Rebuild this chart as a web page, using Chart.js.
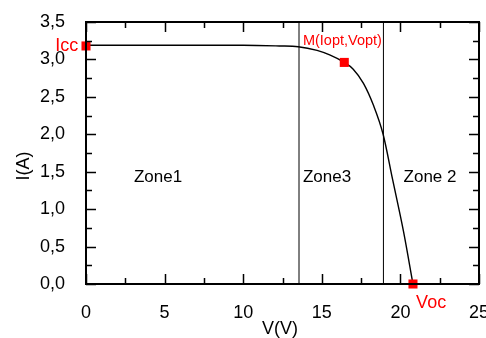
<!DOCTYPE html>
<html>
<head>
<meta charset="utf-8">
<script src="https://cdn.jsdelivr.net/npm/chart.js@4"></script>
<style>
  html, body { margin: 0; padding: 0; background: #fff; }
  #wrap { width: 486px; height: 338px; }
</style>
</head>
<body>
<div id="wrap"><canvas id="ivChart" width="486" height="338"></canvas></div>
<script>
// courbe I(V)
const tension = [0, 5, 10, 12.3, 13.5, 14.7, 15.5, 16.43, 17.0, 17.65, 18.28, 18.9, 19.5, 20.2, 20.8];
const courant = [3.19, 3.19, 3.19, 3.18, 3.17, 3.12, 3.06, 2.96, 2.87, 2.68, 2.39, 2.0, 1.40, 0.70, 0.0];

// points remarquables : Icc, M, Voc
const pointsV = [0, 16.43, 20.8];
const pointsI = [3.18, 2.96, 0];

// limites des zones
const zoneLimites = [13.55, 18.92];

// textes (position en V, I)
const textes = [
  { t: 'Icc', v: -0.5, i: 3.18, color: '#ff0000', size: 18, align: 'right' },
  { t: 'M(Iopt,Vopt)', v: 13.8, i: 3.24, color: '#ff0000', size: 14.5, align: 'left' },
  { t: 'Voc', v: 21.0, i: -0.26, color: '#ff0000', size: 18, align: 'left' },
  { t: 'Zone1', v: 3.05, i: 1.43, color: '#000', size: 17, align: 'left' },
  { t: 'Zone3', v: 13.8, i: 1.43, color: '#000', size: 17, align: 'left' },
  { t: 'Zone 2', v: 20.2, i: 1.43, color: '#000', size: 17, align: 'left' }
];

const police = '"Liberation Sans", Arial, sans-serif';

const courbe = tension.map((v, k) => ({ x: v, y: courant[k] }));
const marqueurs = pointsV.map((v, k) => ({ x: v, y: pointsI[k] }));
const lignesZones = zoneLimites.map(v => ({
  data: [{ x: v, y: 0 }, { x: v, y: 3.5 }],
  showLine: true,
  borderColor: '#000',
  borderWidth: 1,
  pointRadius: 0,
  order: 2
}));

// cadre, graduations internes, textes et titres
const decorPlugin = {
  id: 'decor',
  afterDraw(chart) {
    const ctx = chart.ctx;
    const xs = chart.scales.x, ys = chart.scales.y;
    const a = chart.chartArea;
    ctx.save();
    ctx.strokeStyle = '#000';
    ctx.lineWidth = 1.5;
    for (let v = 0; v <= 25; v += 2.5) {
      const px = Math.round(xs.getPixelForValue(v)) + 0.5;
      const len = (v % 5 === 0) ? 10 : 6;
      ctx.beginPath();
      ctx.moveTo(px, a.bottom); ctx.lineTo(px, a.bottom - len);
      ctx.moveTo(px, a.top); ctx.lineTo(px, a.top + len);
      ctx.stroke();
    }
    for (let k = 0; k <= 14; k++) {
      const v = k * 0.25;
      const py = Math.round(ys.getPixelForValue(v)) + 0.5;
      const len = (k % 2 === 0) ? 10 : 6;
      ctx.beginPath();
      ctx.moveTo(a.left, py); ctx.lineTo(a.left + len, py);
      ctx.moveTo(a.right, py); ctx.lineTo(a.right - len, py);
      ctx.stroke();
    }
    ctx.lineWidth = 2;
    ctx.strokeRect(a.left, a.top, a.right - a.left, a.bottom - a.top);

    ctx.textBaseline = 'middle';
    textes.forEach(o => {
      ctx.fillStyle = o.color;
      ctx.font = o.size + 'px ' + police;
      ctx.textAlign = o.align;
      ctx.fillText(o.t, xs.getPixelForValue(o.v), ys.getPixelForValue(o.i));
    });

    ctx.fillStyle = '#000';
    ctx.font = '18px ' + police;
    ctx.textAlign = 'center';
    ctx.fillText('V(V)', 280, 329);
    ctx.translate(24, 166);
    ctx.rotate(-Math.PI / 2);
    ctx.fillText('I(A)', 0, 0);
    ctx.restore();
  }
};

const ctx = document.getElementById('ivChart').getContext('2d');
const ivChart = new Chart(ctx, {
  type: 'scatter',
  data: {
    datasets: [
      {
        data: courbe,
        showLine: true,
        cubicInterpolationMode: 'monotone',
        borderColor: '#000',
        borderWidth: 1.4,
        pointRadius: 0,
        order: 1
      },
      ...lignesZones,
      {
        data: marqueurs,
        pointStyle: 'rect',
        pointRadius: 6.4,
        backgroundColor: '#ff0000',
        borderColor: '#ff0000',
        borderWidth: 0,
        clip: false,
        order: 0
      }
    ]
  },
  options: {
    responsive: false,
    animation: false,
    layout: { padding: { left: 0, top: 22, right: 7, bottom: 0 } },
    plugins: { legend: { display: false }, tooltip: { enabled: false } },
    scales: {
      x: {
        type: 'linear',
        min: 0,
        max: 25,
        grid: { display: false },
        border: { display: false },
        ticks: {
          stepSize: 5,
          padding: 10,
          color: '#000',
          font: { family: police, size: 18 }
        },
        afterFit(scale) {
          scale.height = 54;
          scale.paddingLeft = 0;
          scale.paddingRight = 0;
        }
      },
      y: {
        type: 'linear',
        min: 0,
        max: 3.5,
        grid: { display: false },
        border: { display: false },
        ticks: {
          stepSize: 0.5,
          padding: 13,
          color: '#000',
          font: { family: police, size: 18 },
          callback: v => v.toFixed(1).replace('.', ',')
        },
        afterFit(scale) {
          scale.width = 86;
          scale.paddingTop = 0;
          scale.paddingBottom = 0;
        }
      }
    }
  },
  plugins: [decorPlugin]
});
</script>
</body>
</html>
